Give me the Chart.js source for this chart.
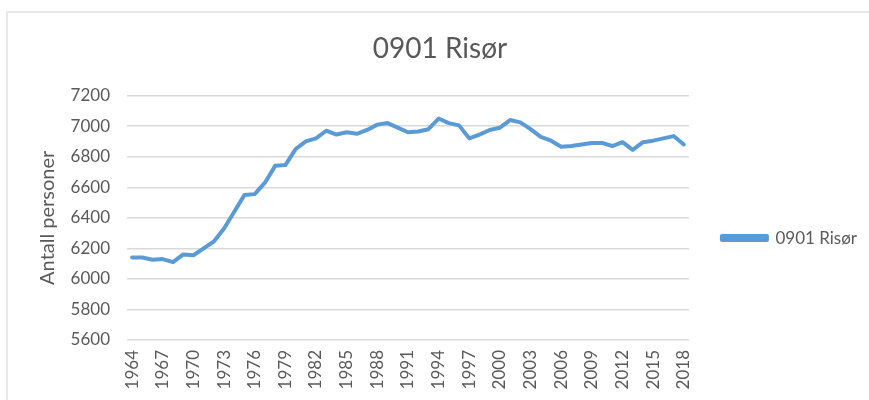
<!DOCTYPE html>
<html>
<head>
<meta charset="utf-8">
<script src="https://cdn.jsdelivr.net/npm/chart.js@4"></script>
<style>
  html, body { margin: 0; padding: 0; background: #ffffff; }
  #wrap { position: relative; width: 869px; height: 400px; }
  #frame { position: absolute; left: 6px; top: 11px; right: -4px; bottom: -4px;
           border-top: 2px solid #e8e8e8; border-left: 2px solid #e8e8e8; pointer-events: none; }
</style>
</head>
<body>
<div id="wrap">
  <canvas id="c" width="869" height="400"></canvas>
  <div id="frame"></div>
</div>
<script>
const years = [];
for (let y = 1964; y <= 2018; y++) years.push(String(y));

const seriesName = '0901 Risør';
const values = [
  6140, 6140, 6125, 6130, 6110, 6160, 6155, 6200, 6245, 6330,
  6440, 6550, 6555, 6630, 6740, 6745, 6850, 6900, 6920, 6970,
  6945, 6960, 6950, 6975, 7010, 7020, 6990, 6960, 6965, 6980,
  7050, 7020, 7005, 6920, 6945, 6975, 6990, 7040, 7025, 6980,
  6930, 6905, 6865, 6870, 6880, 6890, 6890, 6870, 6895, 6845,
  6895, 6905, 6920, 6935, 6880
];
const yTicks = [5600, 5800, 6000, 6200, 6400, 6600, 6800, 7000, 7200];

const FONT = 'Lato, "Open Sans", sans-serif';
const GREY = '#595959';

// moves the legend to sit a little right of the plot, vertically like the original
const legendPlacer = {
  id: 'legendPlacer',
  afterLayout(chart) {
    const l = chart.legend;
    if (!l) return;
    const pad = l.options.labels.padding;
    const w = l.width, h = l.height;
    l.left = chart.chartArea.right + 33 - pad;
    l.right = l.left + w;
    const midY = chart.chartArea.top + (chart.chartArea.bottom - chart.chartArea.top) * 0.59;
    l.top = midY - pad - 10.2;
    l.bottom = l.top + h;
  }
};

new Chart(document.getElementById('c'), {
  type: 'line',
  data: {
    labels: years,
    datasets: [{
      label: seriesName,
      data: values,
      borderColor: '#5b9bd5',
      backgroundColor: '#5b9bd5',
      borderWidth: 4,
      pointRadius: 0,
      tension: 0,
      fill: false,
      borderJoinStyle: 'round',
      borderCapStyle: 'round'
    }]
  },
  plugins: [legendPlacer],
  options: {
    responsive: false,
    animation: false,
    layout: { padding: { left: 36, right: 25, top: 12, bottom: 0 } },
    plugins: {
      title: {
        display: true,
        text: seriesName,
        color: GREY,
        font: { family: FONT, size: 28, weight: 'normal' },
        padding: { top: 20, bottom: 30 }
      },
      legend: {
        position: 'right',
        align: 'start',
        labels: {
          color: GREY,
          font: { family: FONT, size: 17 },
          boxWidth: 45,
          boxHeight: 4,
          padding: 10
        }
      },
      tooltip: { enabled: false }
    },
    scales: {
      x: {
        type: 'category',
        offset: true,
        grid: { display: false, drawTicks: false },
        border: { display: false },
        afterFit(scale) { scale.height = 60; },
        ticks: {
          color: GREY,
          font: { family: FONT, size: 17 },
          minRotation: 90,
          maxRotation: 90,
          autoSkip: false,
          padding: 10,
          callback: function(v, i) { return (i % 3 === 0) ? years[i] : ''; }
        }
      },
      y: {
        min: 5600,
        max: 7200,
        afterBuildTicks: function(axis) { axis.ticks = yTicks.map(v => ({ value: v })); },
        afterFit(scale) { scale.width = 91; },
        grid: { color: '#d9d9d9', lineWidth: 1.5, drawTicks: false },
        border: { display: false },
        ticks: {
          color: GREY,
          font: { family: FONT, size: 17 },
          padding: 17,
          callback: function(v) { return String(v); }
        },
        title: {
          display: true,
          text: 'Antall personer',
          color: GREY,
          font: { family: FONT, size: 20 },
          padding: { top: 0, bottom: 0 }
        }
      }
    }
  }
});
</script>
</body>
</html>
